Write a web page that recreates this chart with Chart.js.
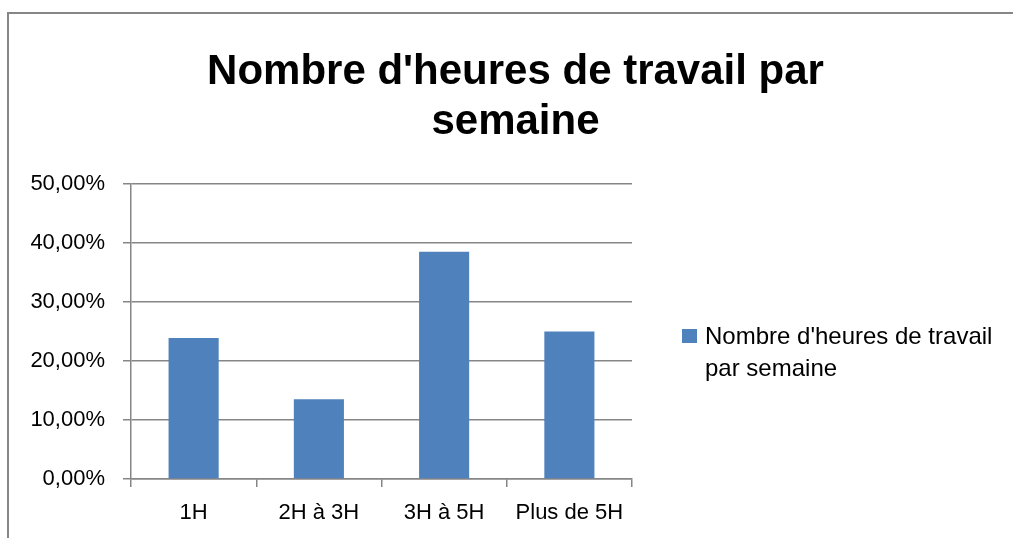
<!DOCTYPE html>
<html>
<head>
<meta charset="utf-8">
<script src="https://cdn.jsdelivr.net/npm/chart.js@4/dist/chart.umd.min.js"></script>
<style>
  html, body { margin: 0; padding: 0; background: #fff; }
  #wrap { position: relative; width: 1013px; height: 538px; overflow: hidden; }
  #frame { position: absolute; left: 7px; top: 12px; width: 1100px; height: 600px; border-left: 2px solid #868686; border-top: 2px solid #868686; }
  canvas { position: absolute; left: 0; top: 0; }
  #legend { position: absolute; left: 682px; top: 320px; width: 320px; font-family: 'Liberation Sans', Arial, sans-serif; font-size: 24px; line-height: 32px; color: #000; }
  #legend .sw { position: absolute; left: 0; top: 9px; width: 15px; height: 14px; }
  #legend .tx { position: absolute; left: 23px; top: 0; width: 300px; }
</style>
</head>
<body>
<div id="wrap">
  <div id="frame"></div>
  <canvas id="c" width="1013" height="538"></canvas>
  <div id="legend"><div class="sw"></div><div class="tx"></div></div>
</div>
<script>
const titleLines = ["Nombre d'heures de travail par", "semaine"];
const categories = ["1H", "2H à 3H", "3H à 5H", "Plus de 5H"];
const seriesName = "Nombre d'heures de travail par semaine";
const values = [23.9, 13.5, 38.5, 25.0];
const yTicks = [0, 10, 20, 30, 40, 50];
const barColor = "#4F81BD";
const gridColor = "#868686";
const fontFamily = "'Liberation Sans', Arial, sans-serif";

document.querySelector('#legend .sw').style.background = barColor;
document.querySelector('#legend .tx').textContent = seriesName;

new Chart(document.getElementById('c'), {
  type: 'bar',
  data: {
    labels: categories,
    datasets: [{
      label: seriesName,
      data: values,
      backgroundColor: barColor,
      borderWidth: 0,
      categoryPercentage: 1.0,
      barPercentage: 0.4
    }]
  },
  options: {
    responsive: false,
    animation: false,
    layout: { padding: { left: 18, right: 0, top: 0, bottom: 0 } },
    plugins: {
      legend: { display: false },
      tooltip: { enabled: false },
      title: {
        display: true,
        text: titleLines,
        color: '#000',
        font: { family: fontFamily, size: 42, weight: 'bold', lineHeight: 1.2 },
        padding: { top: 47, bottom: 36 }
      }
    },
    scales: {
      x: {
        offset: true,
        grid: { display: true, drawOnChartArea: false, offset: true, color: gridColor, lineWidth: 1.5, tickLength: 8 },
        border: { display: true, color: gridColor, width: 1.5 },
        ticks: { color: '#000', font: { family: fontFamily, size: 22 }, padding: 13, maxRotation: 0 },
        afterFit: s => { s.height = 59; }
      },
      y: {
        min: 0, max: 50,
        afterBuildTicks: s => { s.ticks = yTicks.map(v => ({ value: v })); },
        grid: { color: gridColor, lineWidth: 1.5, tickLength: 8 },
        border: { display: true, color: gridColor, width: 1.5 },
        ticks: {
          color: '#000',
          font: { family: fontFamily, size: 22 },
          padding: 18,
          callback: v => v.toFixed(2).replace('.', ',') + '%'
        },
        afterFit: s => { s.width = 113; }
      },
      yr: {
        position: 'right',
        display: true,
        grid: { display: false },
        border: { display: false },
        ticks: { display: false },
        afterFit: s => { s.width = 381; }
      }
    }
  }
});
</script>
</body>
</html>
